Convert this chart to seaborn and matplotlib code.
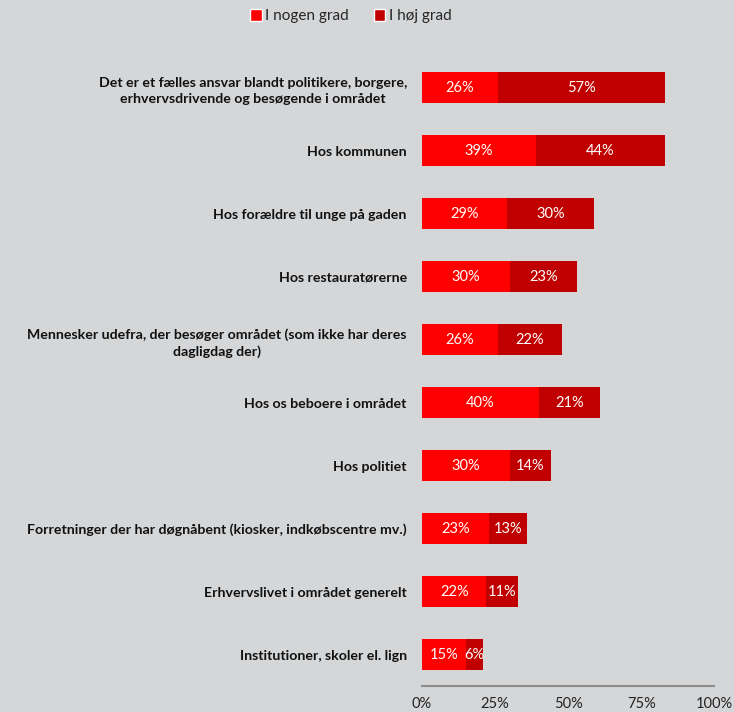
import matplotlib
matplotlib.use("Agg")
import matplotlib.pyplot as plt
import seaborn as sns
import pandas as pd
from matplotlib.patches import Patch

categories = [
    "Det er et fælles ansvar blandt politikere, borgere,\nerhvervsdrivende og besøgende i området",
    "Hos kommunen",
    "Hos forældre til unge på gaden",
    "Hos restauratørerne",
    "Mennesker udefra, der besøger området (som ikke har deres\ndagligdag der)",
    "Hos os beboere i området",
    "Hos politiet",
    "Forretninger der har døgnåbent (kiosker, indkøbscentre mv.)",
    "Erhvervslivet i området generelt",
    "Institutioner, skoler el. lign",
]
nogen = [26, 39, 29, 30, 26, 40, 30, 23, 22, 15]
hoj = [57, 44, 30, 23, 22, 21, 14, 13, 11, 6]
series_names = ["I nogen grad", "I høj grad"]
tick_vals = [0, 25, 50, 75, 100]

bg = "#d5d6d8"
c1 = "#ff0000"
c2 = "#c00000"

sns.set_theme(style="white")
plt.rcParams["font.family"] = ["Lato", "DejaVu Sans"]

df = pd.DataFrame({"cat": categories, "nogen": nogen, "hoj": hoj})
df["total"] = df["nogen"] + df["hoj"]

fig = plt.figure(figsize=(7.34, 7.12), dpi=100, facecolor=bg)
ax = fig.add_axes([0.575, 0.036, 0.398, 0.885])
ax.set_facecolor(bg)

sns.barplot(data=df, y="cat", x="total", color=c2, orient="h", width=0.49,
            ax=ax, saturation=1, linewidth=0)
sns.barplot(data=df, y="cat", x="nogen", color=c1, orient="h", width=0.49,
            ax=ax, saturation=1, linewidth=0)

for i, (a, b) in enumerate(zip(nogen, hoj)):
    ax.text(a / 2, i, f"{a}%", ha="center", va="center", color="white", fontsize=10.5)
    ax.text(a + b / 2, i, f"{b}%", ha="center", va="center", color="white", fontsize=10.5)

ax.set_xlim(0, 100)
ax.set_xticks(tick_vals)
ax.set_xticklabels([f"{v}%" for v in tick_vals], fontsize=10.5, color="#222222")
ax.set_ylabel("")
ax.set_xlabel("")
ax.tick_params(axis="y", length=0, pad=11)
ax.tick_params(axis="x", length=5, width=1.5, color="#8c8c8c", direction="out", pad=3)
for lab in ax.get_yticklabels():
    lab.set_fontweight("bold")
    lab.set_fontsize(10.2)
    lab.set_color("#111111")
    lab.set_horizontalalignment("right")
    lab.set_multialignment("center")
    lab.set_linespacing(1.45)
for s in ["top", "right", "left"]:
    ax.spines[s].set_visible(False)
ax.spines["bottom"].set_color("#8c8c8c")
ax.spines["bottom"].set_linewidth(1.5)

handles = [Patch(facecolor=c1, label=series_names[0]), Patch(facecolor=c2, label=series_names[1])]
fig.legend(handles=handles, loc="center", bbox_to_anchor=(0.478, 0.977), ncol=2,
           frameon=False, fontsize=11, handlelength=0.75, handleheight=0.75,
           handletextpad=0.25, columnspacing=1.6)

fig.savefig("out.png", dpi=100, facecolor=bg)
